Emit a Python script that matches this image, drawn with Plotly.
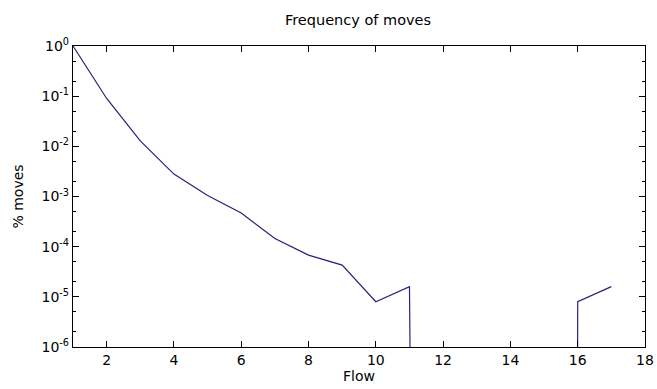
import numpy as np
import plotly.graph_objects as go

flow = [1, 2, 3, 4, 5, 6, 7, 8, 9, 10, 11, 12, 13, 14, 15, 16, 17]
pct_moves = [1.0, 0.09, 0.0128, 0.0028, 0.00105, 0.00047, 0.000145, 0.000068,
             0.000043, 0.000008, 0.000016, 0, 0, 0, 0, 0.000008, 0.000016]

x_ticks = [2, 4, 6, 8, 10, 12, 14, 16, 18]
y_ticks = [1, 1e-1, 1e-2, 1e-3, 1e-4, 1e-5, 1e-6]
y_ticktext = ["10<sup>0</sup>", "10<sup>-1</sup>", "10<sup>-2</sup>", "10<sup>-3</sup>",
              "10<sup>-4</sup>", "10<sup>-5</sup>", "10<sup>-6</sup>"]
y_minor_mult = [2, 5]
y_minor = [m * d for d in y_ticks[1:] for m in y_minor_mult]

# zeros go to -infinity on a log axis (drawn as vertical drops), like matplotlib
y_plot = np.where(np.array(pct_moves) > 0, pct_moves, 1e-300)

fig = go.Figure()
fig.add_trace(go.Scatter(x=flow, y=y_plot, mode="lines",
                         line=dict(color="#23237a", width=1.2),
                         showlegend=False, hoverinfo="skip"))
# invisible copy on the minor-tick axis so that axis is drawn
fig.add_trace(go.Scatter(x=flow, y=y_plot, mode="lines", yaxis="y2",
                         line=dict(color="rgba(0,0,0,0)", width=0),
                         showlegend=False, hoverinfo="skip"))

font = dict(family="DejaVu Sans", size=14, color="black")
fig.update_layout(
    width=657, height=389,
    margin=dict(l=73, r=12, t=46, b=42),
    paper_bgcolor="white", plot_bgcolor="white",
    font=font,
    title=dict(text="Frequency of moves", x=358 / 657, xanchor="center",
               y=1 - 20 / 389, yanchor="middle",
               font=dict(family="DejaVu Sans", size=14.5, color="black")),
    yaxis2=dict(type="log", range=[-6, 0], overlaying="y", side="left",
                tickvals=y_minor, showticklabels=False, ticks="inside", ticklen=3,
                tickcolor="black", showline=False, mirror="ticks",
                showgrid=False, zeroline=False, automargin=False),
)
fig.update_xaxes(
    range=[1, 18], tickvals=x_ticks, ticks="inside", ticklen=6, tickcolor="black",
    showline=True, linecolor="black", linewidth=1.2, mirror="ticks",
    showgrid=False, zeroline=False, automargin=False,
    title=dict(text="Flow", standoff=2, font=dict(family="DejaVu Sans", size=14, color="black")),
    tickfont=font,
)
fig.update_layout(yaxis=dict(
    type="log", range=[-6, 0], tickvals=y_ticks, ticktext=y_ticktext,
    ticks="inside", ticklen=6, tickcolor="black",
    showline=True, linecolor="black", linewidth=1.2, mirror="ticks",
    showgrid=False, zeroline=False, automargin=False,
    title=dict(text="% moves", standoff=14, font=dict(family="DejaVu Sans", size=14, color="black")),
    tickfont=font,
))

fig.write_html("out.html", config={"displayModeBar": False},
               post_script="document.body.style.margin='0';document.body.style.overflow='hidden';")
